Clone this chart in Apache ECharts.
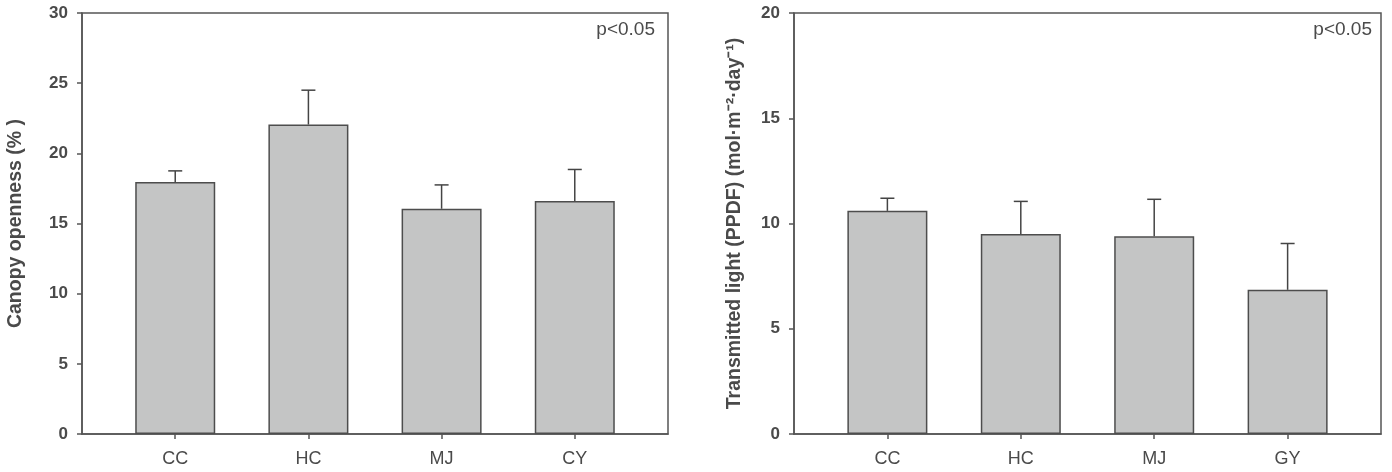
<!DOCTYPE html>
<html>
<head>
<meta charset="utf-8">
<script src="https://cdn.jsdelivr.net/npm/echarts@6/dist/echarts.min.js"></script>
<style>
  html, body { margin: 0; padding: 0; background: #fff; }
  #chart { width: 1392px; height: 472px; }
</style>
</head>
<body>
<div id="chart"></div>
<script>
// left panel: canopy openness
const leftCats = ["CC", "HC", "MJ", "CY"]
const leftMeans = [17.95, 22.05, 16.05, 16.6]
const leftErrs = [0.8, 2.45, 1.7, 2.25]
const leftTicks = [0, 5, 10, 15, 20, 25, 30]

// right panel: transmitted light
const rightCats = ["CC", "HC", "MJ", "GY"]
const rightMeans = [10.6, 9.5, 9.4, 6.85]
const rightErrs = [0.6, 1.55, 1.75, 2.2]
const rightTicks = [0, 5, 10, 15, 20]

const positions = [1, 2, 3, 4]

const font = "'Liberation Sans', Arial, sans-serif"
const textColor = "#4a4a4a"
const lineColor = "#555"

function xAxisFor(idx, cats) {
    return {
        type: "value",
        gridIndex: idx,
        min: 0.3,
        max: 4.7,
        splitLine: { show: false },
        axisLine: { show: true, lineStyle: { color: lineColor, width: 1.5 } },
        axisTick: { show: true, customValues: positions, length: 5, lineStyle: { color: lineColor, width: 1.5 } },
        axisLabel: {
            customValues: positions,
            formatter: v => cats[Math.round(v) - 1],
            color: textColor,
            fontFamily: font,
            fontSize: 18,
            margin: 16
        }
    }
}

function yAxisFor(idx, ticks, name, gap) {
    return {
        type: "value",
        gridIndex: idx,
        min: ticks[0],
        max: ticks[ticks.length - 1],
        interval: ticks[1] - ticks[0],
        name: name,
        nameLocation: "middle",
        nameGap: gap,
        nameTextStyle: { color: textColor, fontFamily: font, fontSize: 19.5, fontWeight: "bold" },
        splitLine: { show: false },
        axisLine: { show: true, lineStyle: { color: lineColor, width: 1.5 } },
        axisTick: { show: true, length: 5, lineStyle: { color: lineColor, width: 1.5 } },
        axisLabel: { color: textColor, fontFamily: font, fontSize: 17, fontWeight: "bold", margin: 14 }
    }
}

function barSeries(idx, means) {
    return {
        type: "bar",
        xAxisIndex: idx,
        yAxisIndex: idx,
        barWidth: 80,
        data: positions.map((p, i) => [p, means[i]]),
        itemStyle: { color: "#c4c5c5", borderColor: "#4d4d4d", borderWidth: 1.5 },
        silent: true
    }
}

function errSeries(idx, means, errs) {
    return {
        type: "custom",
        xAxisIndex: idx,
        yAxisIndex: idx,
        data: positions.map((p, i) => [p, means[i], means[i] + errs[i]]),
        renderItem: (params, api) => {
            const base = api.coord([api.value(0), api.value(1)])
            const top = api.coord([api.value(0), api.value(2)])
            const style = { stroke: "#444", lineWidth: 1.5 }
            return {
                type: "group",
                children: [
                    { type: "line", shape: { x1: base[0], y1: base[1], x2: top[0], y2: top[1] }, style: style },
                    { type: "line", shape: { x1: top[0] - 7, y1: top[1], x2: top[0] + 7, y2: top[1] }, style: style }
                ]
            }
        },
        z: 3,
        silent: true
    }
}

const myChart = echarts.init(document.getElementById("chart"))
myChart.setOption({
    animation: false,
    backgroundColor: "#fff",
    title: [
        { text: "p<0.05", right: 737, top: 20, padding: 0,
          textStyle: { color: textColor, fontFamily: font, fontSize: 19, fontWeight: "normal" } },
        { text: "p<0.05", right: 20, top: 20, padding: 0,
          textStyle: { color: textColor, fontFamily: font, fontSize: 19, fontWeight: "normal" } }
    ],
    grid: [
        { left: 82, top: 13, width: 586, height: 421, show: true, borderColor: lineColor, borderWidth: 1.5 },
        { left: 794, top: 13, width: 587, height: 421, show: true, borderColor: lineColor, borderWidth: 1.5 }
    ],
    xAxis: [xAxisFor(0, leftCats), xAxisFor(1, rightCats)],
    yAxis: [
        yAxisFor(0, leftTicks, "Canopy openness (% )", 56),
        yAxisFor(1, rightTicks, "Transmitted light (PPDF) (mol·m⁻²·day⁻¹)", 49)
    ],
    series: [
        barSeries(0, leftMeans),
        errSeries(0, leftMeans, leftErrs),
        barSeries(1, rightMeans),
        errSeries(1, rightMeans, rightErrs)
    ]
})
</script>
</body>
</html>
